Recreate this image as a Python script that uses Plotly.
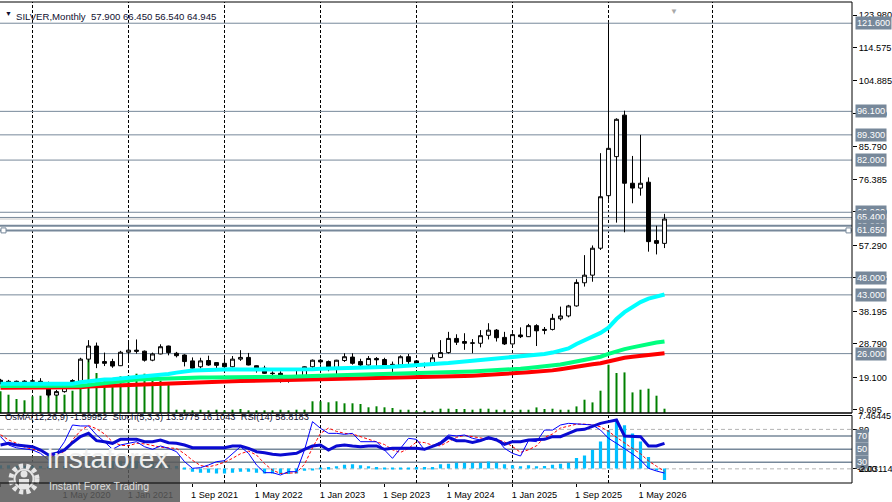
import numpy as np
import pandas as pd
import plotly.graph_objects as go

# SILVER, Monthly (Sep 2019 .. Aug 2026)
opens = [18.3, 17.5, 18.0, 17.7, 18.0, 18.0, 17.5, 14.0, 15.0, 18.2,
         18.0, 24.4, 28.2, 23.7, 23.7, 22.5, 26.4, 27.0, 26.7, 24.1,
         25.9, 28.2, 26.1, 25.6, 23.9, 22.2, 24.0, 23.4, 23.2, 22.2,
         24.4, 24.9, 22.5, 21.8, 20.2, 20.3, 18.4, 18.9, 19.3, 22.2,
         24.1, 23.7, 21.8, 24.0, 25.0, 23.7, 22.7, 24.6, 24.3, 22.4,
         22.7, 25.1, 23.9, 22.8, 22.7, 24.9, 26.3, 30.4, 29.5, 29.0,
         29.0, 31.3, 32.8, 30.7, 28.8, 31.4, 30.9, 34.1, 32.7, 33.0,
         36.1, 36.9, 39.8, 46.5, 48.7, 56.5, 71.7, 83.0, 95.0, 75.3,
         73.9, 75.6, 58.7, 57.9]
highs = [18.7, 18.4, 18.2, 18.3, 18.8, 18.9, 17.9, 15.5, 17.6, 18.6,
         24.8, 29.9, 29.2, 26.3, 24.5, 26.8, 29.2, 30.1, 26.9, 26.3,
         28.7, 28.3, 26.5, 25.8, 24.9, 24.8, 25.4, 23.5, 24.7, 25.3,
         27.0, 26.2, 22.6, 22.5, 20.9, 20.9, 19.8, 21.2, 22.3, 24.3,
         24.5, 24.0, 24.2, 26.1, 26.1, 24.5, 25.3, 25.0, 24.8, 23.7,
         25.5, 25.9, 24.0, 23.4, 25.8, 29.9, 32.3, 31.6, 31.9, 30.2,
         32.8, 34.8, 33.1, 32.3, 31.9, 33.6, 34.6, 34.5, 33.7, 37.5,
         39.6, 40.1, 47.5, 54.5, 57.3, 84.0, 121.6, 94.1, 96.3, 83.2,
         89.3, 77.0, 63.0, 66.45]
lows = [17.1, 17.3, 17.2, 17.5, 17.5, 17.4, 13.3, 13.8, 14.7, 17.3,
        17.9, 23.5, 21.8, 22.4, 21.9, 22.4, 24.0, 26.0, 23.7, 23.8,
        25.8, 25.5, 24.9, 22.3, 21.4, 21.7, 22.5, 21.4, 22.0, 22.0,
        23.9, 22.6, 20.5, 20.1, 18.2, 17.6, 17.6, 18.1, 18.8, 21.9,
        22.8, 20.9, 19.9, 23.6, 22.8, 22.1, 22.5, 22.3, 22.0, 20.7,
        22.5, 22.5, 22.0, 21.9, 22.5, 24.7, 26.0, 28.5, 27.1, 26.1,
        27.8, 30.1, 29.5, 28.5, 28.6, 30.5, 30.8, 28.2, 31.6, 32.7,
        35.6, 36.5, 39.6, 45.4, 46.8, 56.0, 70.5, 63.9, 61.1, 69.5,
        71.7, 55.5, 54.7, 56.54]
closes = [17.4, 18.0, 17.7, 18.0, 18.1, 17.5, 14.0, 15.0, 16.5, 17.9,
          24.4, 28.2, 23.2, 23.2, 22.4, 26.4, 27.0, 26.7, 24.1, 25.9,
          28.0, 26.3, 25.4, 23.7, 21.8, 23.9, 22.7, 22.6, 22.2, 24.4,
          24.9, 22.7, 21.7, 20.3, 20.3, 18.4, 18.9, 19.1, 22.2, 24.1,
          23.6, 21.8, 24.1, 25.1, 23.2, 22.7, 24.6, 24.2, 22.4, 22.9,
          25.1, 23.7, 22.7, 22.7, 24.8, 26.3, 30.4, 29.3, 29.0, 29.1,
          31.2, 32.8, 30.6, 28.8, 31.5, 30.9, 34.1, 32.6, 33.0, 36.2,
          36.9, 39.8, 46.6, 48.7, 56.5, 71.4, 85.4, 93.8, 75.3, 73.9,
          75.3, 58.4, 57.9, 64.945]

# moving averages (aqua / spring green / red)
ma_fast = [17.3, 17.3, 17.3, 17.3, 17.3, 17.3, 17.2, 17.2, 17.2, 17.3,
           17.7, 18.0, 18.3, 18.5, 18.6, 18.8, 18.9, 19.1, 19.3, 19.5,
           19.8, 20.1, 20.5, 20.9, 21.1, 21.2, 21.3, 21.4, 21.45, 21.45,
           21.4, 21.4, 21.3, 21.3, 21.25, 21.25, 21.25, 21.3, 21.4, 21.5,
           21.6, 21.7, 21.75, 21.8, 21.9, 22.0, 22.05, 22.1, 22.15, 22.2,
           22.4, 22.55, 22.7, 22.85, 23.0, 23.15, 23.3, 23.5, 23.7, 23.9,
           24.1, 24.3, 24.5, 24.7, 24.9, 25.1, 25.35, 25.6, 25.9, 26.3,
           26.8, 27.5, 28.8, 29.8, 30.8, 32.0, 33.5, 36.0, 38.0, 39.6,
           40.9, 41.9, 42.6, 43.1]
ma_mid = [16.6, 16.6, 16.6, 16.6, 16.6, 16.6, 16.6, 16.6, 16.6, 16.6,
          16.7, 16.9, 17.2, 17.5, 17.8, 18.1, 18.4, 18.5, 18.6, 18.7,
          18.85, 18.9, 18.95, 19.0, 19.05, 19.1, 19.1, 19.15, 19.15, 19.2,
          19.2, 19.25, 19.25, 19.3, 19.3, 19.3, 19.3, 19.3, 19.4, 19.5,
          19.6, 19.65, 19.7, 19.75, 19.8, 19.85, 19.9, 19.95, 20.0, 20.05,
          20.1, 20.15, 20.2, 20.3, 20.35, 20.45, 20.55, 20.65, 20.75, 20.85,
          20.95, 21.05, 21.15, 21.3, 21.5, 21.65, 21.85, 22.05, 22.3, 22.55,
          22.85, 23.3, 23.7, 24.2, 24.6, 25.1, 25.9, 26.7, 27.3, 27.8,
          28.3, 28.8, 29.2, 29.5]
ma_slow = [16.1, 16.1, 16.1, 16.1, 16.1, 16.1, 16.1, 16.1, 16.1, 16.1,
           16.3, 16.5, 16.6, 16.7, 16.8, 16.85, 16.9, 17.0, 17.1, 17.2,
           17.35, 17.45, 17.55, 17.65, 17.7, 17.8, 17.85, 17.9, 17.95, 18.0,
           18.05, 18.1, 18.15, 18.2, 18.25, 18.3, 18.35, 18.37, 18.4, 18.45,
           18.5, 18.5, 18.55, 18.6, 18.6, 18.65, 18.7, 18.75, 18.8, 18.8,
           18.85, 18.9, 18.95, 19.0, 19.1, 19.2, 19.3, 19.4, 19.5, 19.6,
           19.7, 19.8, 19.9, 20.1, 20.3, 20.45, 20.6, 20.75, 20.95, 21.15,
           21.5, 21.9, 22.2, 22.6, 22.9, 23.2, 23.8, 24.4, 24.8, 25.1,
           25.4, 25.7, 25.9, 26.1]

# tick volume
volume = [21700, 18300, 14000, 12700, 16700, 17300, 21700, 21700, 18300, 22300,
          45000, 54000, 40000, 35000, 35000, 36700, 37300, 39300, 39300, 33300,
          32300, 28300, 3300, 3300, 2700, 3300, 2700, 3300, 2700, 3300,
          4000, 2700, 2700, 2700, 2700, 3300, 2700, 3300, 3300, 11700,
          11700, 10700, 11700, 9700, 9700, 9000, 5700, 6700, 5700, 5000,
          3300, 3300, 2300, 2300, 2300, 4300, 4300, 4000, 4000, 3300,
          4300, 4300, 3300, 3300, 2300, 3300, 3300, 5600, 4000, 4300,
          3300, 3300, 6600, 13300, 10600, 22300, 48300, 40000, 40600, 20600,
          23300, 24300, 17300, 4300]

# sub window: OsMA(12,26,9), Stoch(5,3,3), RSI(14)
osma = [0.45, 0.45, 0.4, 0.4, 0.4, 0.35, 0.3, 0.3, 0.35, 0.45,
        0.8, 1.1, 1.15, 1.1, 1.05, 1.1, 1.15, 1.1, 0.95, 0.8,
        0.7, 0.55, 0.35, 0.1, -0.46, -0.6, -0.6, -0.7, -0.7, -0.6,
        -0.46, -0.46, -0.6, -0.7, -0.7, -0.78, -0.78, -0.7, -0.32, -0.14,
        0.14, 0.23, 0.32, 0.55, 0.6, 0.46, 0.32, 0.23, 0.14, 0.14,
        0.14, 0.14, 0.23, 0.23, 0.23, 0.6, 0.69, 0.83, 0.83, 0.83,
        0.83, 1.01, 0.83, 0.6, 0.46, 0.32, 0.46, 0.32, 0.37, 0.55,
        0.69, 0.83, 1.47, 1.84, 2.63, 3.82, 5.39, 6.82, 6.08, 4.93,
        3.82, 1.61, -0.23, -1.59952]
stoch_main = [69, 56.3, 52, 50, 48.7, 43.6, 33.5, 43.6, 61.3, 86.7,
              85.2, 85.2, 71.5, 61.3, 49.7, 56.3, 58.8, 61.3, 53.7, 49.7,
              54.8, 51.2, 46.1, 30.9, 20.8, 21.8, 25.9, 30.9, 32.4, 43.6,
              53.7, 43.6, 25.9, 14.2, 14.2, 10.6, 15.7, 15.7, 48.7, 91.8,
              81.6, 74, 74, 72.5, 74, 61.3, 61.3, 61.3, 48.7, 36,
              51.2, 66.4, 64.9, 48.7, 54.8, 61.3, 71.5, 70, 71.5, 66.4,
              63.9, 64.9, 66.4, 51.2, 43.6, 39.5, 62.9, 61.3, 79, 79,
              86.7, 89.2, 88.2, 86.7, 86.7, 79, 66.4, 58.8, 51.2, 42.6,
              33.5, 20.8, 16.7, 13.5775]
stoch_signal = [72, 64, 59, 53, 50, 47, 42, 40, 46, 64,
                78, 86, 81, 73, 61, 56, 55, 59, 58, 55,
                53, 52, 51, 43, 33, 25, 23, 26, 30, 36,
                43, 47, 41, 28, 18, 13, 13, 14, 27, 52,
                74, 82, 77, 74, 73, 69, 66, 61, 57, 49,
                45, 51, 61, 60, 56, 55, 62, 68, 71, 69,
                67, 65, 65, 61, 54, 45, 49, 55, 68, 73,
                82, 85, 88, 88, 87, 84, 77, 68, 59, 51,
                43, 32, 24, 16.1043]
rsi = [56.3, 58.8, 56.3, 55, 53.7, 48.7, 41.1, 43.6, 48.7, 59.8,
       69, 74, 62.9, 61.3, 58.8, 64.9, 65.4, 64.9, 61.3, 61.3,
       63.9, 59.8, 58.8, 56.3, 52.2, 52.2, 52.2, 52.2, 52.2, 54.8,
       54.8, 51.2, 46.1, 44.6, 42.1, 41.1, 42.1, 43.6, 49.7, 54.8,
       56.3, 48.7, 54.8, 56.3, 54.8, 53.7, 54.8, 54.8, 49.7, 51.2,
       51.2, 51.2, 51.2, 49.7, 53.7, 58.8, 68, 62.9, 62.9, 60.3,
       62.9, 67.4, 63.9, 57.3, 61.3, 61.3, 63.9, 63.9, 64.9, 69,
       69, 74, 79, 80.1, 84.2, 89.2, 91.8, 94.3, 70, 69,
       69, 54.8, 54.8, 58.8183]

levels = [121.6, 96.1, 89.3, 82.0, 66.9, 65.4, 63.0, 61.65, 48.0, 43.0, 26.0]
thick_levels = [63.0, 61.65]
price_ticks = [123.98, 114.575, 104.885, 95.48, 85.79, 76.385, 66.98,
               57.29, 47.885, 38.195, 28.79, 19.1, 9.695]
label_months = ["2019-09", "2020-05", "2021-01", "2021-09", "2022-05", "2023-01",
                "2023-09", "2024-05", "2025-01", "2025-09", "2026-05"]
rsi_levels = [70, 50, 30]

months = pd.date_range("2019-09-01", periods=len(closes), freq="MS")
bars = np.arange(len(months))
month_pos = {m.strftime("%Y-%m"): i for i, m in enumerate(months)}

# pixel geometry of the MT4 window
PW, PH = 852, 484
def fx(px): return px / PW
def fy(py): return (PH - py) / PH
def price_at(py): return 123.98 - (py - 15) / 3.456
def osc_at(py): return (482.0 - py) / 0.6575

grid_bars = [4, 16, 28, 40, 52, 64, 76, 89]
SLATE = "#77889a"
LOGO = "#e6e6e6"
FONT = "Liberation Sans, Arial, sans-serif"
FS = 9.2

fig = go.Figure()
fig.add_trace(go.Bar(x=bars, y=volume, width=0.25, marker=dict(color="#008000", line_width=0),
                     xaxis="x", yaxis="y", hoverinfo="skip"))
fig.add_trace(go.Candlestick(x=bars, open=opens, high=highs, low=lows, close=closes,
                             xaxis="x", yaxis="y3", whiskerwidth=0,
                             increasing=dict(line=dict(color="black", width=1), fillcolor="white"),
                             decreasing=dict(line=dict(color="black", width=1), fillcolor="black")))
for ma, col in [(ma_slow, "#ff0000"), (ma_mid, "#00ff7f"), (ma_fast, "#00ffff")]:
    fig.add_trace(go.Scatter(x=bars, y=ma, mode="lines", line=dict(color=col, width=4),
                             xaxis="x", yaxis="y3", hoverinfo="skip"))

fig.add_trace(go.Bar(x=bars, y=osma, width=0.4, marker=dict(color="#00bfff", line_width=0),
                     xaxis="x2", yaxis="y2"))
fig.add_trace(go.Scatter(x=bars, y=stoch_signal, mode="lines",
                         line=dict(color="#ff0000", width=1, dash="3px,2px"), xaxis="x2", yaxis="y4"))
fig.add_trace(go.Scatter(x=bars, y=stoch_main, mode="lines",
                         line=dict(color="#0000ff", width=1), xaxis="x2", yaxis="y4"))
fig.add_trace(go.Scatter(x=bars, y=rsi, mode="lines",
                         line=dict(color="#0a0ad2", width=3), xaxis="x2", yaxis="y4"))

shapes = []
# logo plate + gear-like emblem (pixel-sized around an anchor point)
shapes.append(dict(type="rect", xref="paper", x0=0, x1=fx(180), yref="paper", y0=fy(503), y1=fy(456),
                   fillcolor="rgba(88,88,88,0.86)", line=dict(width=0), layer="above"))
emblem = dict(xref="paper", yref="paper", xsizemode="pixel", ysizemode="pixel",
              xanchor=fx(24), yanchor=fy(479), layer="above")
shapes.append(dict(type="circle", x0=-13, x1=13, y0=-13, y1=13,
                   line=dict(color=LOGO, width=5, dash="4px,3px"), **emblem))
shapes.append(dict(type="circle", x0=-9.5, x1=9.5, y0=-9.5, y1=9.5,
                   line=dict(color=LOGO, width=2), **emblem))
shapes.append(dict(type="circle", x0=-3.5, x1=3.5, y0=1.5, y1=8.5,
                   fillcolor=LOGO, line=dict(width=0), **emblem))
shapes.append(dict(type="rect", x0=-5, x1=5, y0=-10, y1=0,
                   fillcolor=LOGO, line=dict(width=0), **emblem))

for b in grid_bars:
    for y0, y1 in [(413, 2), (483, 415.5)]:
        shapes.append(dict(type="line", xref="x", x0=b, x1=b, yref="paper", y0=fy(y0), y1=fy(y1),
                           line=dict(color="black", width=1, dash="3px,2px"), layer="below"))
for lv in levels:
    shapes.append(dict(type="line", xref="paper", x0=0, x1=1, yref="y3", y0=lv, y1=lv,
                       line=dict(color=SLATE, width=2 if lv in thick_levels else 1), layer="below"))
shapes.append(dict(type="line", xref="paper", x0=0, x1=1, yref="y3", y0=closes[-1], y1=closes[-1],
                   line=dict(color="#c8c8c8", width=1), layer="below"))
for lv in rsi_levels:
    shapes.append(dict(type="line", xref="paper", x0=0, x1=1, yref="y4", y0=lv, y1=lv,
                       line=dict(color=SLATE, width=1.5), layer="below"))
for lv in [80, 20]:
    shapes.append(dict(type="line", xref="paper", x0=0, x1=1, yref="y4", y0=lv, y1=lv,
                       line=dict(color="#b4b4b4", width=1, dash="4px,3px"), layer="below"))
# selected line end markers
for xa, x0, x1 in [(0, 1, 6), (1, -6, -1)]:
    shapes.append(dict(type="rect", xref="paper", xsizemode="pixel", xanchor=xa, x0=x0, x1=x1,
                       yref="y3", ysizemode="pixel", yanchor=61.65, y0=-2.5, y1=2.5,
                       fillcolor="white", line=dict(color=SLATE, width=1), layer="above"))
# window frames
for ya, yb in [(2, 413), (415.5, 483)]:
    for y in (ya, yb):
        shapes.append(dict(type="line", xref="paper", x0=0, x1=1, yref="paper", y0=fy(y), y1=fy(y),
                           line=dict(color="black", width=1.5 if y == 413 else 1), layer="above"))
    shapes.append(dict(type="line", xref="paper", x0=1, x1=1, yref="paper", y0=fy(yb), y1=fy(ya),
                       line=dict(color="black", width=1), layer="above"))

ann = []
ann.append(dict(text="▼", x=fx(3), y=fy(8), xanchor="left", font=dict(size=7, color="#101030")))
ann.append(dict(text=f"SILVER,Monthly  {opens[-1]:.3f} {highs[-1]:.3f} {lows[-1]:.3f} {closes[-1]:.3f}",
                x=fx(14), y=fy(8.5), xanchor="left", font=dict(size=9.6, color="#101030")))
ann.append(dict(text=f"OsMA(12,26,9) {osma[-1]:.5f}  Stoch(5,3,3) {stoch_main[-1]:.4f} "
                     f"{stoch_signal[-1]:.4f}  RSI(14) {rsi[-1]:.4f}",
                x=fx(3), y=fy(424.5), xanchor="left", font=dict(size=9.3, color="#101030")))
ann.append(dict(text="▼", x=fx(680), y=fy(4.5), font=dict(size=8, color="#a8a8a8")))
for lv in levels:
    ann.append(dict(text=f"{lv:.3f}", x=fx(855), y=lv, yref="y3", xanchor="left",
                    bgcolor=SLATE, borderpad=1, font=dict(size=FS, color="white")))
for lv in rsi_levels:
    ann.append(dict(text=str(lv), x=fx(855), y=lv, yref="y4", xanchor="left",
                    bgcolor=SLATE, borderpad=1, font=dict(size=FS, color="white")))
ann.append(dict(text="7.46445", x=fx(856), y=fy(422.5), xanchor="left", font=dict(size=FS, color="black")))
ann.append(dict(text="-2.03114", x=fx(855), y=fy(475.5), xanchor="left", font=dict(size=FS, color="black")))
ann.append(dict(text="instaforex", x=fx(45), y=fy(476), xanchor="left",
                font=dict(size=28, color="#eeeeee")))
ann.append(dict(text="Instant Forex Trading", x=fx(47), y=fy(494), xanchor="left",
                font=dict(size=10.6, color="#dcdcdc")))
for a in ann:
    a.setdefault("xref", "paper")
    a.setdefault("yref", "paper")
    a["showarrow"] = False

axis_font = dict(size=FS, color="black", family=FONT)
fig.update_layout(
    width=892, height=502,
    margin=dict(l=0, r=40, t=0, b=18, autoexpand=False),
    paper_bgcolor="white", plot_bgcolor="white",
    font=dict(family=FONT, color="black"),
    showlegend=False,
    hovermode=False,
    shapes=shapes, annotations=ann,
    xaxis=dict(domain=[0, 1], range=[-0.0625, -0.0625 + PW / 8], anchor="y",
               showticklabels=False, showgrid=False, zeroline=False, ticks="",
               rangeslider=dict(visible=False), fixedrange=True, automargin=False),
    xaxis2=dict(domain=[0, 1], matches="x", anchor="y2", showgrid=False, zeroline=False,
                tickmode="array", tickvals=[month_pos[m] for m in label_months],
                ticktext=[f"1 {pd.Timestamp(m):%b %Y}" for m in label_months],
                ticks="outside", ticklen=3, tickcolor="black", ticklabelshift=22,
                tickfont=axis_font, fixedrange=True, automargin=False),
    yaxis=dict(domain=[fy(413), fy(2)], range=[0, 411000], visible=False, fixedrange=True),
    yaxis3=dict(overlaying="y", anchor="x", side="right", range=[price_at(413), price_at(2)],
                tickmode="array", tickvals=price_ticks, ticktext=[f"{v:.3f}" for v in price_ticks],
                ticks="outside", ticklen=4, tickcolor="black", tickfont=axis_font,
                showgrid=False, zeroline=False, fixedrange=True, automargin=False),
    yaxis2=dict(domain=[fy(483), fy(415.5)], anchor="x2", side="right", range=[-2.03114, 7.46445],
                tickmode="array", tickvals=[0], ticktext=["0.00"], ticks="outside", ticklen=4,
                tickcolor="black", tickfont=axis_font, showgrid=False, zeroline=False,
                fixedrange=True, automargin=False),
    yaxis4=dict(overlaying="y2", anchor="x2", side="right", range=[osc_at(483), osc_at(415.5)],
                tickmode="array", tickvals=[80, 20], ticktext=["80", "20"], ticks="outside", ticklen=4,
                tickcolor="black", tickfont=axis_font, showgrid=False, zeroline=False,
                fixedrange=True, automargin=False),
)

# the page body has a default 8px margin; drop it so the chart sits at the window origin
fig.write_html("out.html", config={"displayModeBar": False},
               post_script="document.body.style.margin='0';")
